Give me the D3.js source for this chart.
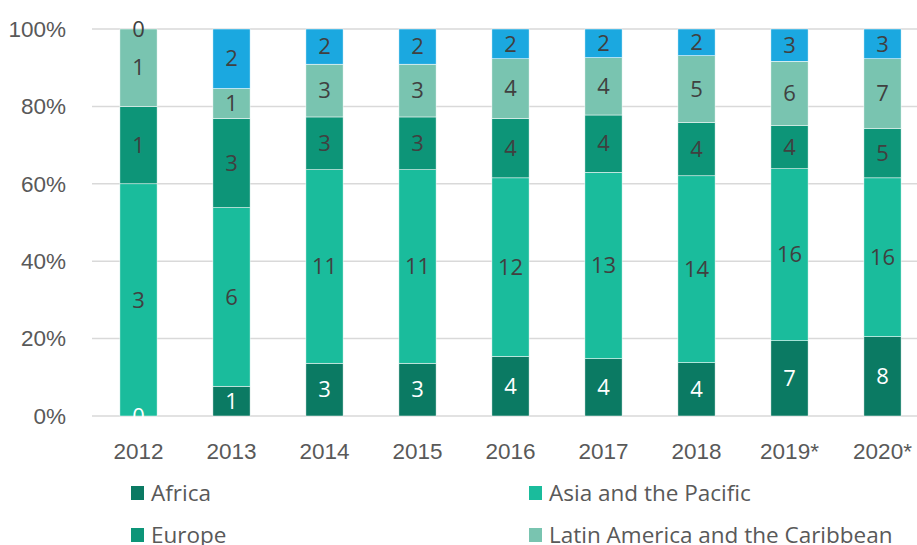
<!DOCTYPE html>
<html>
<head>
<meta charset="utf-8">
<script src="https://cdn.jsdelivr.net/npm/d3@7"></script>
<style>
  body { margin: 0; background: #fff; }
  svg { display: block; font-family: "Open Sans", "Noto Sans", sans-serif; }
</style>
</head>
<body>
<svg id="chart"></svg>
<script>
// chart data
const years = ["2012", "2013", "2014", "2015", "2016", "2017", "2018", "2019*", "2020*"];
const regions = ["Africa", "Asia and the Pacific", "Europe", "Latin America and the Caribbean", "North America"];
const africa = [0, 1, 3, 3, 4, 4, 4, 7, 8];
const asiaPacific = [3, 6, 11, 11, 12, 13, 14, 16, 16];
const europe = [1, 3, 3, 3, 4, 4, 4, 4, 5];
const latinAmerica = [1, 1, 3, 3, 4, 4, 5, 6, 7];
const northAmerica = [0, 2, 2, 2, 2, 2, 2, 3, 3];
const yTicks = [0, 0.2, 0.4, 0.6, 0.8, 1];

const colors = ["#0b7a63", "#1abc9c", "#0d9578", "#79c4b0", "#1ba8e0"];
const labelColors = ["#ffffff", "#404040", "#404040", "#404040", "#404040"];

const width = 917, height = 545;
const margin = {top: 29, left: 92, bottom: 129};
const plotH = height - margin.top - margin.bottom;

// build rows for stacking
const series = [africa, asiaPacific, europe, latinAmerica, northAmerica];
const rows = years.map((y, i) => {
  let r = {year: y};
  regions.forEach((k, j) => r[k] = series[j][i]);
  return r;
});

const stack = d3.stack().keys(regions).offset(d3.stackOffsetExpand);
const stacked = stack(rows);

const svg = d3.select("#chart").attr("width", width).attr("height", height);

const x = d3.scaleBand()
    .domain(years)
    .range([margin.left, margin.left + 93 * years.length])
    .paddingInner(0.6)
    .paddingOuter(0.3);

const y = d3.scaleLinear()
    .domain([0, 1])
    .range([margin.top + plotH, margin.top]);

// gridlines
svg.append("g")
  .selectAll("line")
  .data(yTicks)
  .join("line")
    .attr("x1", margin.left)
    .attr("x2", width)
    .attr("y1", d => y(d))
    .attr("y2", d => y(d))
    .attr("stroke", "#d9d9d9")
    .attr("stroke-width", 1.5);

// y axis
const yAxis = d3.axisLeft(y)
    .tickValues(yTicks)
    .tickFormat(d3.format(".0%"))
    .tickSize(0)
    .tickPadding(26);

svg.append("g")
    .attr("transform", `translate(${margin.left},0)`)
    .call(yAxis)
    .call(g => g.select(".domain").remove())
    .selectAll("text")
    .attr("font-size", "22.5px")
    .attr("fill", "#595959");

// x axis
const xAxis = d3.axisBottom(x).tickSize(0).tickPadding(27);
svg.append("g")
    .attr("transform", `translate(0,${y(0)})`)
    .call(xAxis)
    .call(g => g.select(".domain").remove())
    .selectAll("text")
    .attr("font-size", "22.5px")
    .attr("fill", "#595959");

// bars
const layers = svg.append("g")
  .selectAll("g")
  .data(stacked)
  .join("g")
    .attr("fill", (d, i) => colors[i]);

layers.selectAll("rect")
  .data(d => d)
  .join("rect")
    .attr("x", d => x(d.data.year))
    .attr("width", x.bandwidth())
    .attr("y", d => y(d[1]))
    .attr("height", d => y(d[0]) - y(d[1]))
    .attr("stroke", "#fff")
    .attr("stroke-width", 0.5);

// value labels
svg.append("g")
  .selectAll("g")
  .data(stacked)
  .join("g")
    .attr("fill", (d, i) => labelColors[i])
  .selectAll("text")
  .data(d => d.map(p => ({p: p, key: d.key})))
  .join("text")
    .attr("x", d => x(d.p.data.year) + x.bandwidth() / 2)
    .attr("y", d => y((d.p[0] + d.p[1]) / 2))
    .attr("dy", "0.35em")
    .attr("text-anchor", "middle")
    .attr("font-size", "22px")
    .text(d => d.p.data[d.key]);

// legend, two columns
const legend = svg.append("g")
  .selectAll("g")
  .data(regions)
  .join("g")
    .attr("transform", (d, i) => `translate(${i % 2 === 0 ? 131 : 529},${493 + Math.floor(i / 2) * 42})`);

legend.append("rect")
    .attr("x", 0)
    .attr("y", -7)
    .attr("width", 13)
    .attr("height", 14)
    .attr("fill", (d, i) => colors[i]);

legend.append("text")
    .attr("x", 20)
    .attr("dy", "0.35em")
    .attr("font-size", "22.5px")
    .attr("fill", "#595959")
    .text(d => d);
</script>
</body>
</html>
